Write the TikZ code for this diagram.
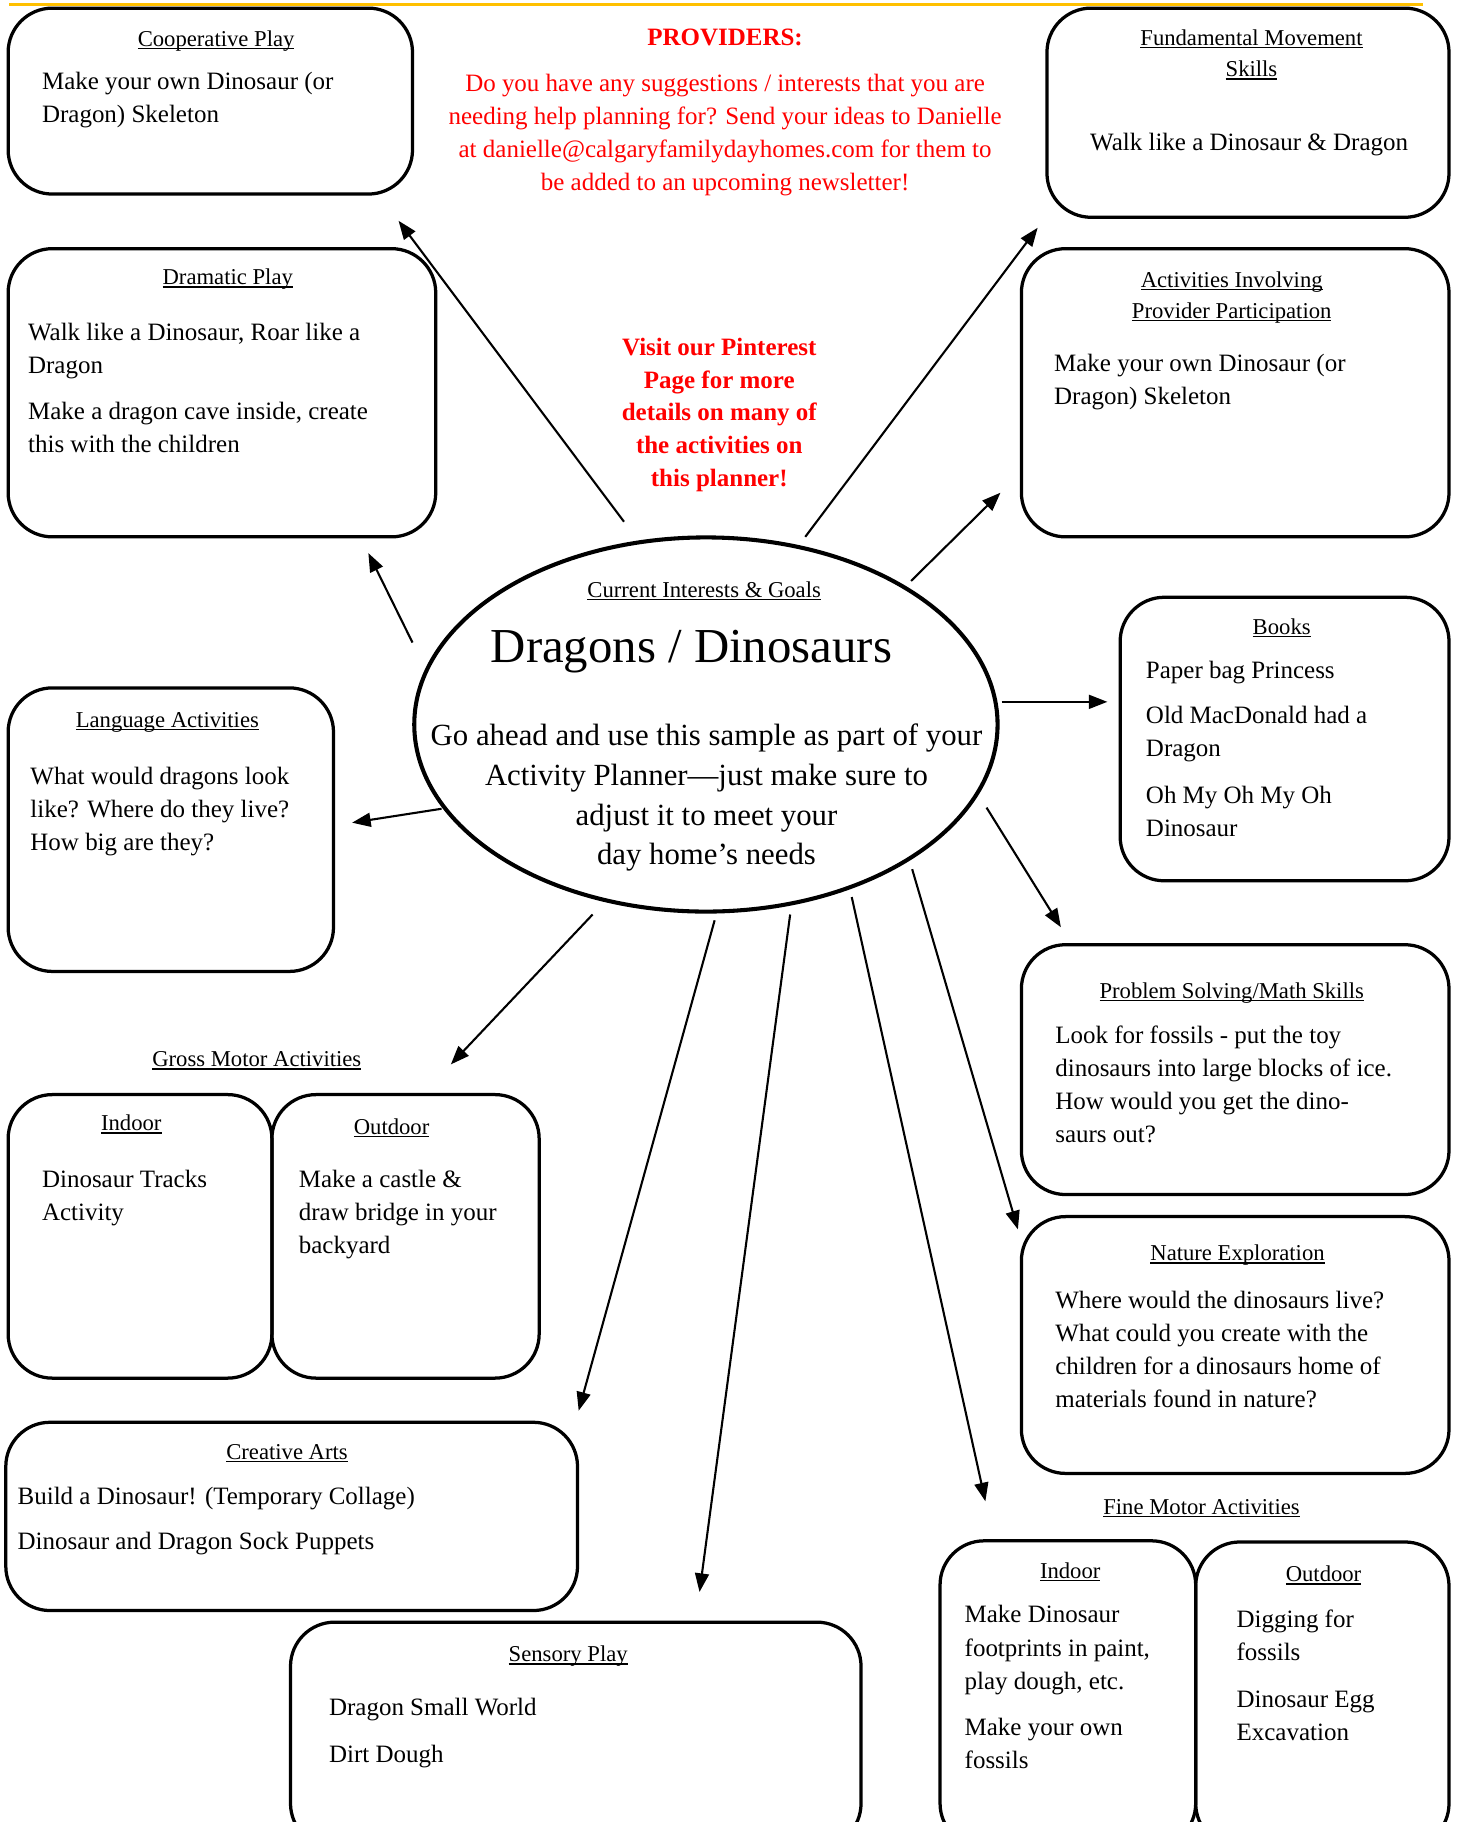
\documentclass[tikz,border=0pt]{standalone}
\usepackage{fontspec}
\setmainfont{Liberation Serif}
\usetikzlibrary{shapes,arrows.meta,positioning,calc}
\definecolor{gold}{RGB}{255,192,0}
\definecolor{provred}{RGB}{255,0,0}
\tikzstyle{box} = [draw, line width=2.8pt, rounded corners=38pt, inner sep=0pt]
\tikzstyle{head} = [inner sep=0pt, anchor=base, font=\fontsize{19.5}{24}\selectfont]
\tikzstyle{txt} = [inner sep=0pt, anchor=north west, align=left, font=\fontsize{21.5}{28.5}\selectfont]
\tikzstyle{note} = [inner sep=0pt, anchor=north, align=center, text=provred, font=\fontsize{21.5}{28.4}\selectfont]
\tikzstyle{link} = [-{Triangle[length=16pt,width=12pt]}, line width=1.8pt]
\newcommand{\ttl}[1]{\setbox0=\hbox{#1}\rlap{\rule[-2.6pt]{\wd0}{1.2pt}}\box0}
\newcommand{\tp}{\rule{0pt}{15pt}}

\begin{document}
\begin{tikzpicture}[x=1pt, y=-1pt]
    \useasboundingbox (0,0) rectangle (1255,1568);
    \clip (0,0) rectangle (1255,1568);
    \draw[gold, line width=3pt] (8,4) -- (1225,4);

    % centre
    \node[draw, ellipse, line width=3.5pt, minimum width=502pt, minimum height=322pt] (goal) at (607.5,623.5) {};
    \node[head] at (606,514) {\ttl{Current Interests \& Goals}};
    \node[inner sep=0pt, anchor=base, font=\fontsize{42}{50}\selectfont] (topic) at (595,570) {Dragons / Dinosaurs};
    \node[inner sep=0pt, anchor=north, align=center, font=\fontsize{26.5}{34.4}\selectfont] (hint) at (608,622)
        {\rule{0pt}{19pt}Go ahead and use this sample as part of your\\Activity Planner—just make sure to\\adjust it to meet your\\day home’s needs};

    % red notes
    \node[inner sep=0pt, anchor=base, text=provred, font=\fontsize{21.5}{26}\bfseries] (prov) at (624,39) {PROVIDERS:};
    \node[note] (provtxt) at (624,63.5) {\tp Do you have any suggestions / interests that you are\\needing help planning for? Send your ideas to Danielle\\at danielle@calgaryfamilydayhomes.com for them to\\be added to an upcoming newsletter!};
    \node[note, font=\fontsize{21.5}{28.3}\bfseries] (pin) at (619,290.5) {\tp Visit our Pinterest\\Page for more\\details on many of\\the activities on\\this planner!};

    % boxes
    \node[box, minimum width=348pt, minimum height=160pt] (coop) at (181,87) {};
    \node[head] at (186,40) {\ttl{Cooperative Play}};
    \node[txt] at (36,61.5) {\tp Make your own Dinosaur (or\\Dragon) Skeleton};

    \node[box, minimum width=346pt, minimum height=180pt] (fms) at (1074,97) {};
    \node[head] at (1077,39) {\ttl{Fundamental Movement}};
    \node[head] at (1077,66) {\ttl{Skills}};
    \node[txt, anchor=base] at (1075,129.5) {Walk like a Dinosaur \& Dragon};

    \node[box, minimum width=368pt, minimum height=248pt] (drama) at (191,338) {};
    \node[head] at (196,245) {\ttl{Dramatic Play}};
    \node[txt] at (24,277.5) {\tp Walk like a Dinosaur, Roar like a\\Dragon\\[11.5pt]Make a dragon cave inside, create\\this with the children};

    \node[box, minimum width=368pt, minimum height=248pt] (part) at (1063,338) {};
    \node[head] at (1060,247) {\ttl{Activities Involving}};
    \node[head] at (1060,274) {\ttl{Provider Participation}};
    \node[txt] at (907,304.5) {\tp Make your own Dinosaur (or\\Dragon) Skeleton};

    \node[box, minimum width=283pt, minimum height=244pt] (books) at (1105.5,636) {};
    \node[head] at (1103,546) {\ttl{Books}};
    \node[txt] at (986,568.5) {\tp Paper bag Princess\\[10.5pt]Old MacDonald had a\\Dragon\\[11.5pt]Oh My Oh My Oh\\Dinosaur};

    \node[box, minimum width=280pt, minimum height=244pt] (lang) at (147,714) {};
    \node[head] at (144,626) {\ttl{Language Activities}};
    \node[txt] at (26,659.5) {\tp What would dragons look\\like? Where do they live?\\How big are they?};

    \node[box, minimum width=368pt, minimum height=215pt] (math) at (1063,920.5) {};
    \node[head] at (1060,859) {\ttl{Problem Solving/Math Skills}};
    \node[txt] at (908,882.5) {\tp Look for fossils - put the toy\\dinosaurs into large blocks of ice.\\How would you get the dino-\\saurs out?};

    \node[head] (gross) at (221,918) {\ttl{Gross Motor Activities}};
    \node[box, minimum width=227pt, minimum height=244pt] (gin) at (120.5,1064) {};
    \node[head] at (113,973) {\ttl{Indoor}};
    \node[txt] at (36,1006.5) {\tp Dinosaur Tracks\\Activity};
    \node[box, minimum width=230pt, minimum height=244pt] (gout) at (349,1064) {};
    \node[head] at (337,976) {\ttl{Outdoor}};
    \node[txt] at (257,1006.5) {\tp Make a castle \&\\draw bridge in your\\backyard};

    \node[box, minimum width=368pt, minimum height=221pt] (nature) at (1063,1157.5) {};
    \node[head] at (1065,1085) {\ttl{Nature Exploration}};
    \node[txt] at (908,1110.5) {\tp Where would the dinosaurs live?\\What could you create with the\\children for a dinosaurs home of\\materials found in nature?};

    \node[box, minimum width=492pt, minimum height=162pt] (arts) at (251,1305) {};
    \node[head] at (247,1256) {\ttl{Creative Arts}};
    \node[txt] at (15,1279.5) {\tp Build a Dinosaur! (Temporary Collage)\\[10.5pt]Dinosaur and Dragon Sock Puppets};

    \node[head] (fine) at (1034,1303) {\ttl{Fine Motor Activities}};
    \node[box, minimum width=220pt, minimum height=264pt] (fin) at (919,1458) {};
    \node[head] at (921,1358) {\ttl{Indoor}};
    \node[txt] at (830,1381.5) {\tp Make Dinosaur\\footprints in paint,\\play dough, etc.\\[11.5pt]Make your own\\fossils};
    \node[box, minimum width=218pt, minimum height=263pt] (fout) at (1138,1458.5) {};
    \node[head] at (1139,1361) {\ttl{Outdoor}};
    \node[txt] at (1064,1385.5) {\tp Digging for\\fossils\\[11.5pt]Dinosaur Egg\\Excavation};

    \node[box, minimum width=491pt, minimum height=194pt] (sense) at (495.5,1493) {};
    \node[head] at (489,1430) {\ttl{Sensory Play}};
    \node[txt] at (283,1461.5) {\tp Dragon Small World\\[11.5pt]Dirt Dough};

    % arrows
    \coordinate (s1) at (537,449);  \coordinate (t1) at (343,190);
    \coordinate (s2) at (693,462);  \coordinate (t2) at (893,196);
    \coordinate (s3) at (355,553);  \coordinate (t3) at (317,476);
    \coordinate (s4) at (784,500);  \coordinate (t4) at (861,424);
    \coordinate (s5) at (862,604);  \coordinate (t5) at (953,604);
    \coordinate (s6) at (380,696);  \coordinate (t6) at (303,708);
    \coordinate (s7) at (849,695);  \coordinate (t7) at (913,798);
    \coordinate (s8) at (510,787);  \coordinate (t8) at (388,916);
    \coordinate (s9) at (615,792);  \coordinate (t9) at (498,1214);
    \coordinate (s10) at (680,787); \coordinate (t10) at (602,1370);
    \coordinate (s11) at (733,772); \coordinate (t11) at (848,1292);
    \coordinate (s12) at (785,748); \coordinate (t12) at (876,1058);
    \foreach \i in {1,...,12}
        \draw[link] (s\i) -- (t\i);
\end{tikzpicture}
\end{document}
